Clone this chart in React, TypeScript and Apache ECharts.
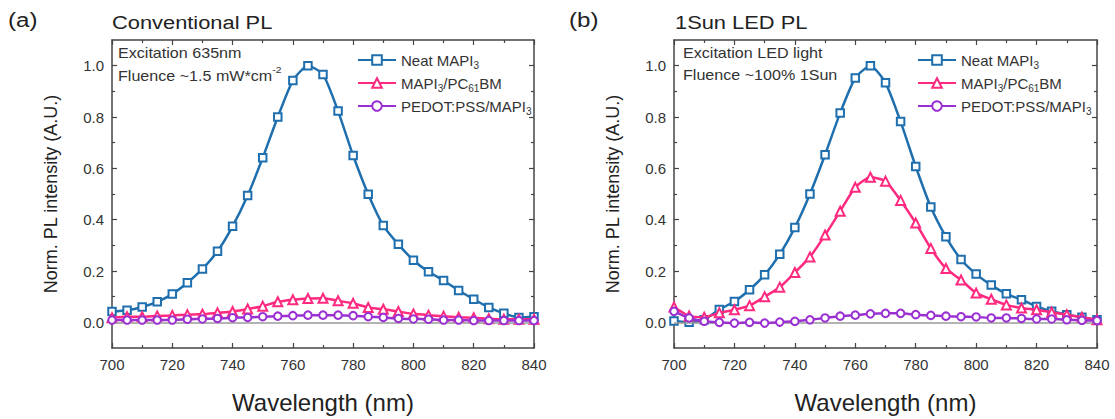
import React, { useEffect, useRef } from "react";
import * as echarts from "echarts";

// ---------- data ----------
const wavelengths = [700, 705, 710, 715, 720, 725, 730, 735, 740, 745, 750, 755, 760, 765, 770, 775, 780, 785, 790, 795, 800, 805, 810, 815, 820, 825, 830, 835, 840];

// (a) Conventional PL
const neatA = [0.042, 0.047, 0.06, 0.08, 0.11, 0.154, 0.208, 0.277, 0.374, 0.494, 0.641, 0.8, 0.942, 1.0, 0.966, 0.823, 0.65, 0.499, 0.377, 0.304, 0.242, 0.197, 0.163, 0.124, 0.09, 0.058, 0.035, 0.019, 0.022];
const pcbmA = [0.018, 0.022, 0.022, 0.025, 0.027, 0.03, 0.032, 0.037, 0.042, 0.052, 0.063, 0.08, 0.088, 0.093, 0.094, 0.084, 0.074, 0.058, 0.051, 0.042, 0.033, 0.028, 0.024, 0.02, 0.018, 0.014, 0.012, 0.012, 0.012];
const pedotA = [0.009, 0.009, 0.009, 0.009, 0.009, 0.012, 0.013, 0.015, 0.018, 0.019, 0.022, 0.024, 0.026, 0.028, 0.028, 0.028, 0.026, 0.022, 0.019, 0.015, 0.013, 0.012, 0.009, 0.009, 0.007, 0.007, 0.007, 0.007, 0.007];

// (b) 1Sun LED PL
const neatB = [0.005, 0.0, 0.01, 0.05, 0.081, 0.127, 0.185, 0.265, 0.369, 0.5, 0.653, 0.816, 0.952, 1.0, 0.933, 0.782, 0.607, 0.449, 0.333, 0.245, 0.188, 0.145, 0.111, 0.088, 0.062, 0.043, 0.03, 0.02, 0.01];
const pcbmB = [0.06, 0.025, 0.02, 0.037, 0.049, 0.065, 0.1, 0.137, 0.194, 0.255, 0.34, 0.433, 0.526, 0.565, 0.55, 0.475, 0.387, 0.288, 0.21, 0.165, 0.114, 0.09, 0.068, 0.056, 0.049, 0.039, 0.03, 0.02, 0.01];
const pedotB = [0.043, 0.017, 0.004, 0.0, -0.003, 0.0, -0.003, 0.001, 0.004, 0.01, 0.017, 0.024, 0.028, 0.033, 0.035, 0.035, 0.03, 0.027, 0.024, 0.022, 0.021, 0.017, 0.017, 0.015, 0.013, 0.013, 0.01, 0.008, 0.007];

const seriesNames = ["Neat MAPI3", "MAPI3/PC61BM", "PEDOT:PSS/MAPI3"];
const legendLabels: Record<string, string> = {
  "Neat MAPI3": "{n|Neat MAPI}{s|3}",
  "MAPI3/PC61BM": "{n|MAPI}{s|3}{n|/PC}{s|61}{n|BM}",
  "PEDOT:PSS/MAPI3": "{n|PEDOT:PSS/MAPI}{s|3}",
};

const xTicks = { min: 700, max: 840, interval: 20 };
const yMajorTicks = [0, 0.2, 0.4, 0.6, 0.8, 1.0];
const yMinorTicks = [0.1, 0.3, 0.5, 0.7, 0.9];
const yRange = { min: -0.1, max: 1.1 };

const panelTitles = ["Conventional PL", "1Sun LED PL"];
const panelLetters = ["(a)", "(b)"];
const notesA = ["Excitation 635nm", "Fluence ~1.5 mW*cm"];
const notesB = ["Excitation LED light", "Fluence ~100% 1Sun"];

// ---------- style ----------
const FONT = '"Liberation Sans", Arial, Helvetica, sans-serif';
const TEXT = "#333";
const AXIS = "#444";
const COLORS = ["#1f6fae", "#ff2a7f", "#9b30d2"];
const SYMBOLS = ["emptyRect", "emptyTriangle", "emptyCircle"];
const SYMBOL_SIZES = [7.5, 9, 7.5];

const GRIDS = [
  { left: 112, top: 40, width: 422, height: 310 },
  { left: 674, top: 40, width: 423, height: 310 },
];

function buildOption() {
  const xAxis: any[] = [];
  const yAxis: any[] = [];
  const tickLine = { color: AXIS, width: 1.2 };
  GRIDS.forEach((_, g) => {
    const baseX = {
      gridIndex: g,
      type: "value",
      min: xTicks.min,
      max: xTicks.max,
      interval: xTicks.interval,
      axisLine: { show: true, onZero: false, lineStyle: { color: AXIS, width: 1.5 } },
      axisTick: { show: true, inside: true, length: 5, lineStyle: tickLine },
      minorTick: { show: true, splitNumber: 2, length: 3, lineStyle: tickLine },
      splitLine: { show: false },
    };
    xAxis.push({
      ...baseX,
      position: "bottom",
      axisLabel: { fontSize: 15, color: TEXT, fontFamily: FONT, margin: 9 },
      name: "Wavelength (nm)",
      nameLocation: "middle",
      nameGap: 42,
      nameTextStyle: { fontSize: 24, color: "#222", fontFamily: FONT },
    });
    xAxis.push({ ...baseX, position: "top", axisLabel: { show: false } });

    const baseY = {
      gridIndex: g,
      type: "value",
      min: yRange.min,
      max: yRange.max,
      splitLine: { show: false },
    };
    yAxis.push({
      ...baseY,
      position: "left",
      axisLine: { show: true, onZero: false, lineStyle: { color: AXIS, width: 1.5 } },
      axisTick: { show: true, inside: true, length: 5, lineStyle: tickLine, customValues: yMajorTicks },
      axisLabel: {
        show: true,
        customValues: yMajorTicks,
        formatter: (v: number) => v.toFixed(1),
        fontSize: 15,
        color: TEXT,
        fontFamily: FONT,
        margin: 8,
      },
      name: "Norm. PL intensity (A.U.)",
      nameLocation: "middle",
      nameGap: 52,
      nameTextStyle: { fontSize: 18, color: "#222", fontFamily: FONT },
    });
    yAxis.push({
      ...baseY,
      position: "right",
      axisLine: { show: true, onZero: false, lineStyle: { color: AXIS, width: 1.5 } },
      axisTick: { show: true, inside: true, length: 5, lineStyle: tickLine, customValues: yMajorTicks },
      axisLabel: { show: false },
    });
    yAxis.push({
      ...baseY,
      position: "left",
      axisLine: { show: false, onZero: false },
      axisTick: { show: true, inside: true, length: 3, lineStyle: tickLine, customValues: yMinorTicks },
      axisLabel: { show: false },
    });
    yAxis.push({
      ...baseY,
      position: "right",
      axisLine: { show: false, onZero: false },
      axisTick: { show: true, inside: true, length: 3, lineStyle: tickLine, customValues: yMinorTicks },
      axisLabel: { show: false },
    });
  });

  const panelData = [
    [neatA, pcbmA, pedotA],
    [neatB, pcbmB, pedotB],
  ];
  const series: any[] = [];
  panelData.forEach((sets, g) => {
    sets.forEach((vals, k) => {
      series.push({
        type: "line",
        name: seriesNames[k],
        xAxisIndex: g * 2,
        yAxisIndex: g * 4,
        data: wavelengths.map((w, i) => [w, vals[i]]),
        symbol: SYMBOLS[k],
        symbolSize: SYMBOL_SIZES[k],
        smooth: 0.2,
        color: COLORS[k],
        lineStyle: { color: COLORS[k], width: 2.5 },
        itemStyle: { color: COLORS[k], borderWidth: 1.5 },
        z: 3 + k,
        markLine:
          k === 0
            ? {
                silent: true,
                symbol: ["none", "none"],
                label: { show: false },
                lineStyle: { color: "#9a9a9a", width: 1.5, type: "solid" },
                data: [{ yAxis: 0 }],
              }
            : undefined,
      });
    });
  });

  const legendRich = {
    n: { fontSize: 15, color: TEXT, fontFamily: FONT, lineHeight: 20 },
    s: { fontSize: 10, color: TEXT, fontFamily: FONT, lineHeight: 10, verticalAlign: "bottom" },
  };
  const legend = [352, 912].map((left) => ({
    orient: "vertical",
    left,
    top: 45,
    itemWidth: 38,
    itemHeight: 12,
    itemGap: 3,
    selectedMode: false,
    data: seriesNames,
    formatter: (name: string) => legendLabels[name],
    textStyle: { fontSize: 15, color: TEXT, fontFamily: FONT, lineHeight: 20, rich: legendRich },
  }));

  const SX = 1.15;
  const txt = (x: number, y: number, text: string, fontSize: number, extra: any = {}) => ({
    type: "text",
    x,
    y,
    scaleX: SX,
    style: {
      text,
      fontSize,
      fontFamily: FONT,
      fill: "#222",
      verticalAlign: "middle",
      align: "left",
      ...extra,
    },
  });
  const supRich = {
    m: { fontSize: 14, fontFamily: FONT, fill: TEXT, lineHeight: 22 },
    sup: { fontSize: 9, fontFamily: FONT, fill: TEXT, lineHeight: 9, verticalAlign: "top" },
  };
  const graphic: any[] = [
    txt(8, 20, panelLetters[0], 21),
    txt(112, 22, panelTitles[0], 19),
    txt(569, 20, panelLetters[1], 21),
    txt(675, 22, panelTitles[1], 19),
    txt(118, 53, notesA[0], 14, { fill: TEXT }),
    txt(118, 76, "{m|" + notesA[1] + "}{sup|-2}", 14, { fill: TEXT, rich: supRich }),
    txt(683, 53, notesB[0], 14, { fill: TEXT }),
    txt(683, 75, notesB[1], 14, { fill: TEXT }),
  ];

  return {
    animation: false,
    backgroundColor: "#fff",
    textStyle: { fontFamily: FONT },
    grid: GRIDS.map((g) => ({ ...g, containLabel: false })),
    xAxis,
    yAxis,
    legend,
    series,
    graphic,
  };
}

export default function App() {
  const ref = useRef<HTMLDivElement>(null);
  useEffect(() => {
    if (!ref.current) return;
    const chart = echarts.init(ref.current, undefined, { renderer: "svg" });
    chart.setOption(buildOption() as any);
    return () => chart.dispose();
  }, []);
  return (
    <div
      ref={ref}
      style={{ position: "fixed", left: 0, top: 0, width: 1115, height: 419, background: "#fff" }}
    />
  );
}
